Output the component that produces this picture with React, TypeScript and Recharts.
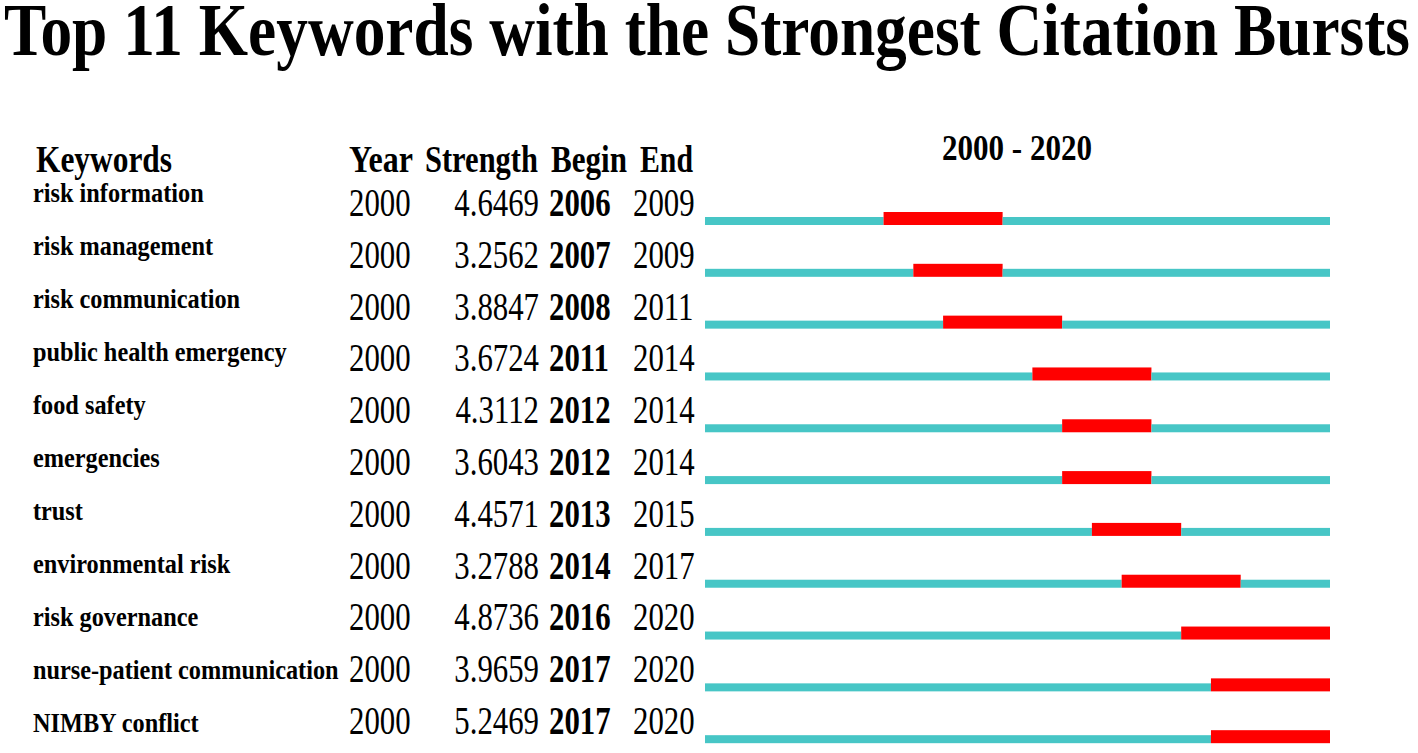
import React from "react";
import { BarChart, Bar, XAxis, YAxis } from "recharts";

const TITLE = "Top 11 Keywords with the Strongest Citation Bursts";
const RANGE_START = 2000;
const RANGE_END = 2020;

const keywords = [
  "risk information",
  "risk management",
  "risk communication",
  "public health emergency",
  "food safety",
  "emergencies",
  "trust",
  "environmental risk",
  "risk governance",
  "nurse-patient communication",
  "NIMBY conflict",
];
const years = [2000, 2000, 2000, 2000, 2000, 2000, 2000, 2000, 2000, 2000, 2000];
const strengths = ["4.6469", "3.2562", "3.8847", "3.6724", "4.3112", "3.6043", "4.4571", "3.2788", "4.8736", "3.9659", "5.2469"];
const begins = [2006, 2007, 2008, 2011, 2012, 2012, 2013, 2014, 2016, 2017, 2017];
const ends = [2009, 2009, 2011, 2014, 2014, 2014, 2015, 2017, 2020, 2020, 2020];

const CYAN = "#47C6C6";
const RED = "#FF0000";
const FONT = "'Liberation Serif', 'Times New Roman', serif";

const rows = keywords.map((k, i) => ({
  keyword: k,
  idx: i,
  pre: begins[i] - RANGE_START,
  burst: ends[i] - begins[i] + 1,
  post: RANGE_END - ends[i],
}));

const makeShape = (color: string, thick: number) => (props: any) => {
  const { x, y, width, height } = props;
  if (!width || width <= 0) return <g />;
  const top = y + height - thick;
  return <rect x={x} y={top} width={width} height={thick} fill={color} />;
};

const RowTick = (props: any) => {
  const { y, payload } = props;
  const i = keywords.indexOf(payload.value);
  const kwOff = -17 + 1.2 * i;
  const numY = y - 3;
  return (
    <g fontFamily={FONT} fill="#000">
      <text transform={`translate(33,${y + kwOff}) scale(0.9,1)`} fontSize={27} fontWeight="bold">
        {payload.value}
      </text>
      <text transform={`translate(349,${numY}) scale(0.77,1)`} fontSize={40}>
        {years[i]}
      </text>
      <text transform={`translate(539,${numY}) scale(0.77,1)`} fontSize={40} textAnchor="end">
        {strengths[i]}
      </text>
      <text transform={`translate(549,${numY}) scale(0.77,1)`} fontSize={40} fontWeight="bold">
        {begins[i]}
      </text>
      <text transform={`translate(633,${numY}) scale(0.77,1)`} fontSize={40}>
        {ends[i]}
      </text>
    </g>
  );
};

export default function App() {
  return (
    <div style={{ position: "fixed", left: 0, top: 0, width: 1418, height: 753, overflow: "hidden", background: "#fff" }}>
      <BarChart
        width={1418}
        height={780}
        data={rows}
        layout="vertical"
        margin={{ top: 193, right: 88, bottom: 17, left: 645 }}
        barCategoryGap={0}
      >
        <XAxis type="number" domain={[0, RANGE_END - RANGE_START + 1]} hide allowDataOverflow />
        <YAxis
          type="category"
          dataKey="keyword"
          width={60}
          axisLine={false}
          tickLine={false}
          interval={0}
          tick={<RowTick />}
        />
        <Bar dataKey="pre" stackId="a" barSize={13} fill={CYAN} isAnimationActive={false} shape={makeShape(CYAN, 8)} />
        <Bar dataKey="burst" stackId="a" barSize={13} fill={RED} isAnimationActive={false} shape={makeShape(RED, 13)} />
        <Bar dataKey="post" stackId="a" barSize={13} fill={CYAN} isAnimationActive={false} shape={makeShape(CYAN, 8)} />
      </BarChart>
      <svg width={1418} height={753} style={{ position: "absolute", left: 0, top: 0, pointerEvents: "none" }}>
        <g fontFamily={FONT} fontWeight="bold" fill="#000">
          <text x={4} y={55} fontSize={74} textLength={1406} lengthAdjust="spacingAndGlyphs">
            {TITLE}
          </text>
          <text x={36} y={172} fontSize={37} textLength={136} lengthAdjust="spacingAndGlyphs">Keywords</text>
          <text x={349} y={172} fontSize={37} textLength={64} lengthAdjust="spacingAndGlyphs">Year</text>
          <text x={425} y={172} fontSize={37} textLength={113} lengthAdjust="spacingAndGlyphs">Strength</text>
          <text x={551} y={172} fontSize={37} textLength={76} lengthAdjust="spacingAndGlyphs">Begin</text>
          <text x={640} y={172} fontSize={37} textLength={53} lengthAdjust="spacingAndGlyphs">End</text>
          <text x={942} y={160} fontSize={35} textLength={150} lengthAdjust="spacingAndGlyphs">
            {`${RANGE_START} - ${RANGE_END}`}
          </text>
        </g>
      </svg>
    </div>
  );
}
